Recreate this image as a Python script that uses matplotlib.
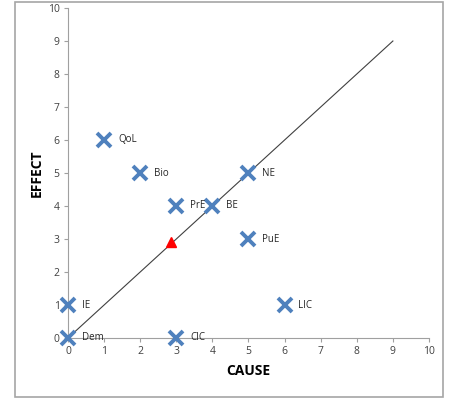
import matplotlib
matplotlib.use("Agg")
import matplotlib.pyplot as plt
from matplotlib.patches import Rectangle

# factor positions (cause, effect)
names = ["QoL", "Bio", "PrE", "BE", "NE", "PuE", "LIC", "IE", "Dem", "CIC"]
cause = [1, 2, 3, 4, 5, 5, 6, 0, 0, 3]
effect = [6, 5, 4, 4, 5, 3, 1, 1, 0, 0]

# reference diagonal and centroid
diag_x = [0, 9]
diag_y = [0, 9]
centre_x = [2.85]
centre_y = [2.9]

plt.rcParams['font.family'] = ['Open Sans', 'DejaVu Sans']

fig = plt.figure(figsize=(4.5, 3.98), dpi=100)
ax = fig.add_axes([68 / 450, 1 - 338 / 398, 361 / 450, 330 / 398])

# outer frame around the chart area
fig.patches.append(Rectangle((15 / 450, 1 - 397 / 398), 428 / 450, 395 / 398,
                             transform=fig.transFigure, fill=False,
                             edgecolor="#a6a6a6", linewidth=1.2))

ax.plot(diag_x, diag_y, color="#404040", linewidth=0.8, zorder=2)
ax.plot(cause, effect, linestyle="none", marker="x", markersize=10,
        markeredgewidth=2.8, color="#4f81bd", zorder=3, clip_on=False)
ax.plot(centre_x, centre_y, linestyle="none", marker="^", markersize=7,
        color="#ff0000", zorder=4)

for n, cx, ey in zip(names, cause, effect):
    ax.annotate(n, (cx, ey), xytext=(10, 0), textcoords="offset points",
                fontsize=7, va="center", ha="left", color="#262626")

ax.set_xlim(0, 10)
ax.set_ylim(0, 10)
ax.set_xticks(range(0, 11))
ax.set_yticks(range(0, 11))
ax.spines["top"].set_visible(False)
ax.spines["right"].set_visible(False)
for s in ("left", "bottom"):
    ax.spines[s].set_color("#a0a0a0")
    ax.spines[s].set_linewidth(0.8)
ax.tick_params(axis="both", direction="out", length=3, width=0.8,
               color="#a0a0a0", labelsize=7.5, labelcolor="#404040", pad=3)

ax.set_xlabel("CAUSE", fontsize=10, fontweight="bold", labelpad=5)
ax.set_ylabel("EFFECT", fontsize=10, fontweight="bold", labelpad=3)

fig.savefig("out.png", dpi=100)
